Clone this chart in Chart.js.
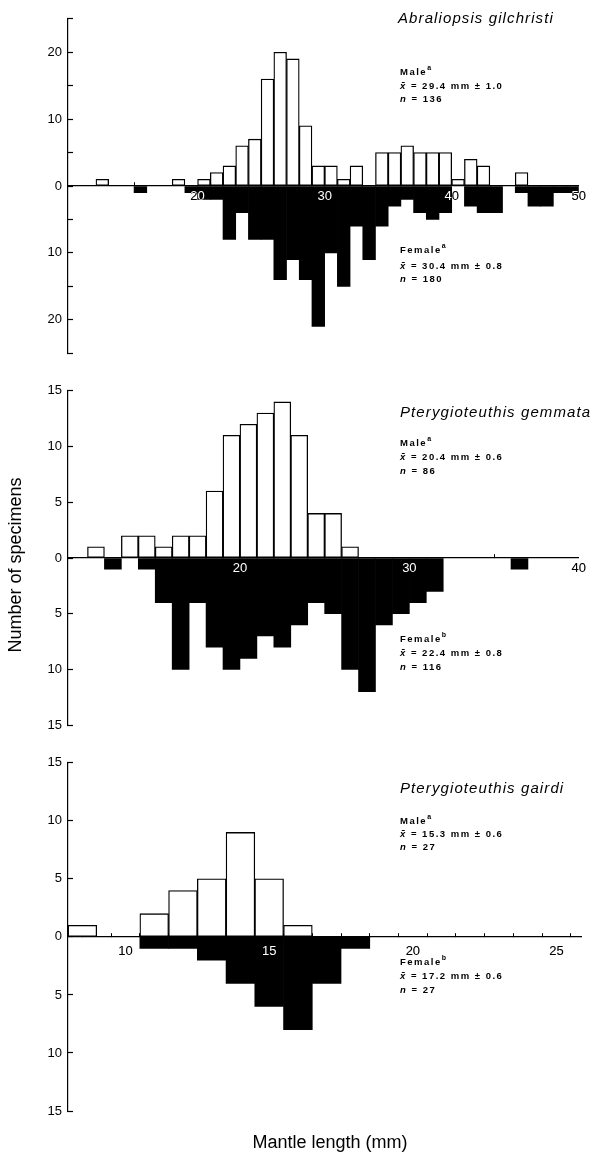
<!DOCTYPE html>
<html>
<head>
<meta charset="utf-8">
<script src="https://cdn.jsdelivr.net/npm/chart.js@4.4.1/dist/chart.umd.min.js"></script>
<style>
html,body{margin:0;padding:0;background:#fff;}
body{width:593px;height:1153px;position:relative;overflow:hidden;font-family:"Liberation Sans",Arial,Helvetica,sans-serif;color:#000;}
canvas{position:absolute;left:0;}
.t{position:absolute;white-space:nowrap;}
.sp{font-style:italic;font-size:15px;letter-spacing:1.1px;line-height:16px;}
.an{font-size:9.5px;font-weight:bold;letter-spacing:1.5px;line-height:12px;}
.an sup{font-size:7px;position:relative;top:-1px;vertical-align:super;line-height:0;}
.ax{font-size:18px;line-height:20px;text-align:center;}
</style>
</head>
<body>
<canvas id="c1" width="593" height="372" style="top:0px"></canvas>
<canvas id="c2" width="593" height="372" style="top:372px"></canvas>
<canvas id="c3" width="593" height="409" style="top:744px"></canvas>

<div class="t sp" style="left:398px;top:10px">Abraliopsis gilchristi</div>
<div class="t an" style="left:400px;top:66px">Male<sup>a</sup></div>
<div class="t an" style="left:400px;top:80px"><i>x̄</i> = 29.4 mm ± 1.0</div>
<div class="t an" style="left:400px;top:93px"><i>n</i> = 136</div>
<div class="t an" style="left:400px;top:244px">Female<sup>a</sup></div>
<div class="t an" style="left:400px;top:260px"><i>x̄</i> = 30.4 mm ± 0.8</div>
<div class="t an" style="left:400px;top:273px"><i>n</i> = 180</div>

<div class="t sp" style="left:400px;top:404px">Pterygioteuthis gemmata</div>
<div class="t an" style="left:400px;top:437px">Male<sup>a</sup></div>
<div class="t an" style="left:400px;top:451px"><i>x̄</i> = 20.4 mm ± 0.6</div>
<div class="t an" style="left:400px;top:465px"><i>n</i> = 86</div>
<div class="t an" style="left:400px;top:633px">Female<sup>b</sup></div>
<div class="t an" style="left:400px;top:647px"><i>x̄</i> = 22.4 mm ± 0.8</div>
<div class="t an" style="left:400px;top:661px"><i>n</i> = 116</div>

<div class="t sp" style="left:400px;top:780px">Pterygioteuthis gairdi</div>
<div class="t an" style="left:400px;top:815px">Male<sup>a</sup></div>
<div class="t an" style="left:400px;top:828px"><i>x̄</i> = 15.3 mm ± 0.6</div>
<div class="t an" style="left:400px;top:841px"><i>n</i> = 27</div>
<div class="t an" style="left:400px;top:956px">Female<sup>b</sup></div>
<div class="t an" style="left:400px;top:970px"><i>x̄</i> = 17.2 mm ± 0.6</div>
<div class="t an" style="left:400px;top:984px"><i>n</i> = 27</div>

<div class="t ax" style="left:-135px;top:555px;width:300px;transform:rotate(-90deg);">Number of specimens</div>
<div class="t ax" style="left:180px;top:1132px;width:300px;">Mantle length (mm)</div>

<script>
// ---- Data (bin = lower edge in mm, each bin 1 mm wide; counts = number of specimens) ----
// Abraliopsis gilchristi
const gilchristiMaleBins     = [12, 18, 20, 21, 22, 23, 24, 25, 26, 27, 28, 29, 30, 31, 32, 34, 35, 36, 37, 38, 39, 40, 41, 42, 45];
const gilchristiMaleCounts   = [ 1,  1,  1,  2,  3,  6,  7, 16, 20, 19,  9,  3,  3,  1,  3,  5,  5,  6,  5,  5,  5,  1,  4,  3,  2];
const gilchristiFemaleBins   = [15, 19, 20, 21, 22, 23, 24, 25, 26, 27, 28, 29, 30, 31, 32, 33, 34, 35, 36, 37, 38, 39, 41, 42, 43, 45, 46, 47, 48, 49];
const gilchristiFemaleCounts = [ 1,  1,  2,  2,  8,  4,  8,  8, 14, 11, 14, 21, 10, 15,  6, 11,  6,  3,  2,  4,  5,  4,  3,  4,  4,  1,  3,  3,  1,  1];
const gilchristiXLabels = [20, 30, 40, 50];
const gilchristiYLabels = [0, 10, 20];

// Pterygioteuthis gemmata
const gemmataMaleBins     = [11, 13, 14, 15, 16, 17, 18, 19, 20, 21, 22, 23, 24, 25, 26];
const gemmataMaleCounts   = [ 1,  2,  2,  1,  2,  2,  6, 11, 12, 13, 14, 11,  4,  4,  1];
const gemmataFemaleBins   = [12, 14, 15, 16, 17, 18, 19, 20, 21, 22, 23, 24, 25, 26, 27, 28, 29, 30, 31, 36];
const gemmataFemaleCounts = [ 1,  1,  4, 10,  4,  8, 10,  9,  7,  8,  6,  4,  5, 10, 12,  6,  5,  4,  3,  1];
const gemmataXLabels = [20, 30, 40];
const gemmataYLabels = [0, 5, 10, 15];

// Pterygioteuthis gairdi
const gairdiMaleBins     = [8, 10.5, 11.5, 12.5, 13.5, 14.5, 15.5];
const gairdiMaleCounts   = [1,    2,    4,    5,    9,    5,    1];
const gairdiFemaleBins   = [10.5, 11.5, 12.5, 13.5, 14.5, 15.5, 16.5, 17.5];
const gairdiFemaleCounts = [   1,    1,    2,    4,    6,    8,    4,    1];
const gairdiXLabels = [10, 15, 20, 25];
const gairdiYLabels = [0, 5, 10, 15];

const BIN_WIDTH = 1;
const FONT = '"Liberation Sans", Arial, Helvetica, sans-serif';

// white background + label inversion (labels white where over black bars, black elsewhere)
const inkPlugin = {
  id: 'ink',
  beforeDraw(chart) {
    const c = chart.ctx;
    c.save();
    c.globalCompositeOperation = 'source-over';
    c.fillStyle = '#ffffff';
    c.fillRect(0, 0, chart.width, chart.height);
    c.restore();
  },
  afterDatasetsDraw(chart) { chart.ctx.globalCompositeOperation = 'difference'; },
  afterDraw(chart) { chart.ctx.globalCompositeOperation = 'source-over'; }
};

function makePanel(id, o) {
  const maleData = o.maleBins.map((b, i) => ({x: b + BIN_WIDTH / 2, y: o.male[i]}));
  const femaleData = o.femaleBins.map((b, i) => ({x: b + BIN_WIDTH / 2, y: -o.female[i]}));
  return new Chart(document.getElementById(id), {
    type: 'bar',
    data: {
      datasets: [
        {label: 'Female', data: femaleData, backgroundColor: '#000', borderWidth: 0,
         grouped: false, barPercentage: 1, categoryPercentage: 1},
        {label: 'Male', data: maleData, backgroundColor: '#fff', borderColor: '#000', borderWidth: 1.3,
         borderSkipped: false, grouped: false, barPercentage: 1, categoryPercentage: 1}
      ]
    },
    options: {
      responsive: false, animation: false, devicePixelRatio: 1,
      layout: {padding: o.padding},
      plugins: {legend: {display: false}, tooltip: {enabled: false}, title: {display: false}},
      scales: {
        x: {
          type: 'linear', min: o.xMin, max: o.xMax, position: {y: 0}, offset: false,
          grid: {display: true, drawOnChartArea: false, drawTicks: true, tickLength: -4, tickColor: '#000', tickWidth: 1},
          border: {display: true, color: '#000', width: 1.2},
          ticks: {stepSize: o.xStep, includeBounds: false, autoSkip: false, maxRotation: 0, minRotation: 0,
                  z: 1, color: '#fff', padding: o.xPad, font: {family: FONT, size: o.xFont},
                  callback: v => o.xLabels.includes(v) ? String(v) : ''}
        },
        y: {
          type: 'linear', min: -o.yMax, max: o.yMax,
          afterFit: s => { s.width = 68; },
          grid: {display: true, drawOnChartArea: false, drawTicks: true, tickLength: -5, tickColor: '#000', tickWidth: 1.2},
          border: {display: true, color: '#000', width: 1.2},
          ticks: {stepSize: 5, autoSkip: false, color: '#000', padding: 11, font: {family: FONT, size: 13},
                  callback: v => o.yLabels.includes(Math.abs(v)) ? String(Math.abs(v)) : ''}
        }
      }
    },
    plugins: [inkPlugin]
  });
}

makePanel('c1', {
  maleBins: gilchristiMaleBins, male: gilchristiMaleCounts,
  femaleBins: gilchristiFemaleBins, female: gilchristiFemaleCounts,
  xMin: 9.8, xMax: 50, xStep: 10, xLabels: gilchristiXLabels, yLabels: gilchristiYLabels,
  yMax: 25, xPad: 7, xFont: 13,
  padding: {top: 10, bottom: 14, left: 0, right: 13}
});
makePanel('c2', {
  maleBins: gemmataMaleBins, male: gemmataMaleCounts,
  femaleBins: gemmataFemaleBins, female: gemmataFemaleCounts,
  xMin: 9.85, xMax: 40, xStep: 10, xLabels: gemmataXLabels, yLabels: gemmataYLabels,
  yMax: 15, xPad: 7, xFont: 13,
  padding: {top: 12, bottom: 12, left: 0, right: 13}
});
makePanel('c3', {
  maleBins: gairdiMaleBins, male: gairdiMaleCounts,
  femaleBins: gairdiFemaleBins, female: gairdiFemaleCounts,
  xMin: 8, xMax: 25.85, xStep: 1, xLabels: gairdiXLabels, yLabels: gairdiYLabels,
  yMax: 15, xPad: 11, xFont: 13,
  padding: {top: 13, bottom: 42, left: 0, right: 12}
});
</script>
</body>
</html>
